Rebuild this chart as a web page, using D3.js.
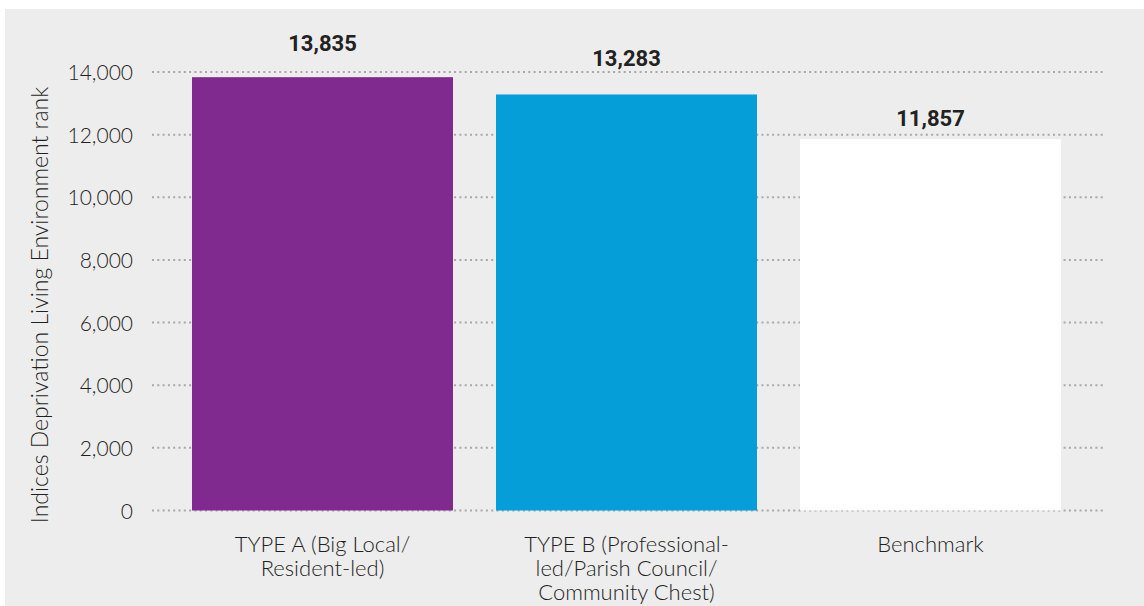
<!DOCTYPE html>
<html>
<head>
<meta charset="utf-8">
<script src="https://cdn.jsdelivr.net/npm/d3@7"></script>
<style>
  html, body { margin: 0; padding: 0; background: #ffffff; }
  svg { display: block; }
</style>
</head>
<body>
<svg id="chart" width="1144" height="606"></svg>
<script>
// ---- data ----
const categories = [
  ["TYPE A (Big Local/", "Resident-led)"],
  ["TYPE B (Professional-", "led/Parish Council/", "Community Chest)"],
  ["Benchmark"]
];
const categoryKeys = ["TYPE A", "TYPE B", "Benchmark"];
const values = [13835, 13283, 11857];
const yTicks = [0, 2000, 4000, 6000, 8000, 10000, 12000, 14000];
const yTitle = "Indices Deprivation Living Environment rank";
const barColors = ["#80298f", "#059ed9", "#ffffff"];

// ---- layout ----
const W = 1144, H = 606;
const svg = d3.select("#chart");

svg.append("rect")
  .attr("x", 5).attr("y", 9)
  .attr("width", W - 5).attr("height", H - 9)
  .attr("fill", "#ededed");

const gridX0 = 152, gridX1 = 1103;

const y = d3.scaleLinear().domain([0, 14000]).range([510.5, 72]);
const x = d3.scaleBand()
  .domain(categoryKeys)
  .range([170.5, 1082.5])
  .paddingInner(0.1414)
  .paddingOuter(0.0707);

// gridlines
svg.append("g").selectAll("line")
  .data(yTicks)
  .join("line")
  .attr("x1", gridX0).attr("x2", gridX1)
  .attr("y1", d => y(d)).attr("y2", d => y(d))
  .attr("stroke", "#a8a8a8")
  .attr("stroke-width", 2)
  .attr("stroke-dasharray", "2,3.3");

// y axis labels via d3 axis
const yAxis = d3.axisLeft(y).tickValues(yTicks).tickFormat(d3.format(",")).tickSize(0).tickPadding(0);
const gy = svg.append("g").attr("transform", "translate(133,0)").call(yAxis);
gy.select(".domain").remove();
gy.selectAll("text")
  .attr("font-family", "Lato, sans-serif")
  .attr("font-weight", 300)
  .attr("font-size", 21)
  .attr("fill", "#1f1f1f")
  .attr("dy", "0.36em");

// bars
svg.append("g").selectAll("rect")
  .data(values)
  .join("rect")
  .attr("x", (d, i) => x(categoryKeys[i]))
  .attr("y", d => y(d))
  .attr("width", x.bandwidth())
  .attr("height", d => y(0) - y(d))
  .attr("fill", (d, i) => barColors[i]);

// value labels
const labelGap = [26, 28, 13.5];
svg.append("g").selectAll("text")
  .data(values)
  .join("text")
  .attr("x", (d, i) => x(categoryKeys[i]) + x.bandwidth() / 2)
  .attr("y", (d, i) => y(d) - labelGap[i])
  .attr("text-anchor", "middle")
  .attr("font-family", "Roboto, sans-serif")
  .attr("font-weight", 700)
  .attr("font-size", 22)
  .attr("fill", "#222222")
  .text(d => d3.format(",")(d));

// category labels
const catG = svg.append("g");
categories.forEach((lines, i) => {
  const t = catG.append("text")
    .attr("x", x(categoryKeys[i]) + x.bandwidth() / 2)
    .attr("y", 552)
    .attr("text-anchor", "middle")
    .attr("font-family", "Lato, sans-serif")
    .attr("font-weight", 300)
    .attr("font-size", 22)
    .attr("fill", "#1f1f1f");
  lines.forEach((ln, j) => {
    t.append("tspan")
      .attr("x", x(categoryKeys[i]) + x.bandwidth() / 2)
      .attr("dy", j === 0 ? 0 : 24)
      .text(ln);
  });
});

// y title
svg.append("text")
  .attr("transform", "translate(48,305) rotate(-90)")
  .attr("text-anchor", "middle")
  .attr("font-family", "Lato, sans-serif")
  .attr("font-weight", 300)
  .attr("font-size", 23)
  .attr("fill", "#1f1f1f")
  .text(yTitle);
</script>
</body>
</html>
